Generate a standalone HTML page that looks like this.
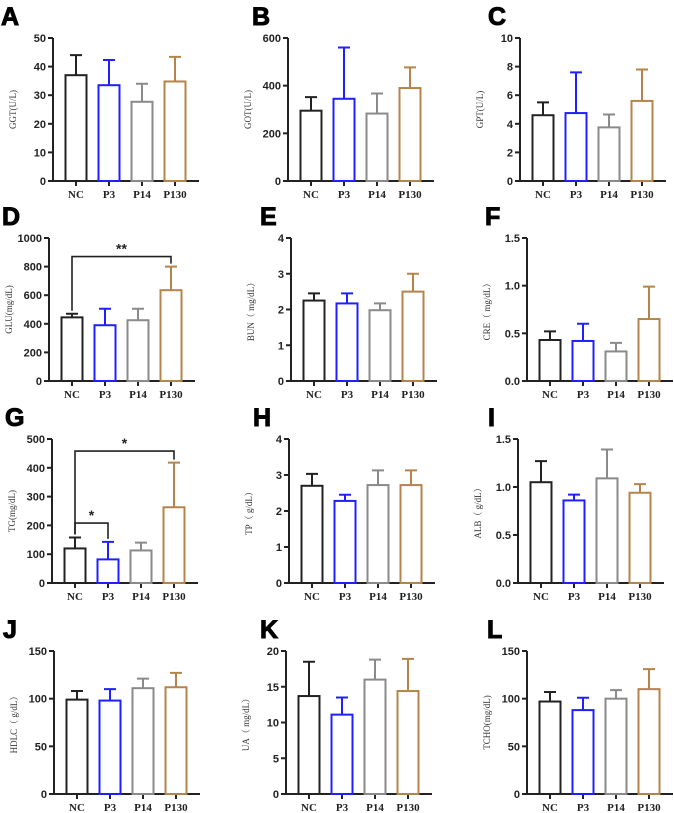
<!DOCTYPE html>
<html><head><meta charset="utf-8"><style>
html,body{margin:0;padding:0;background:#fff;}
svg{display:block;}
</style></head><body>
<svg id="fig" width="674" height="813" viewBox="0 0 674 813" xmlns="http://www.w3.org/2000/svg"></svg>
<script>
const categories = ["NC","P3","P14","P130"];
const colors = ["#222222","#2020ff","#8a8a8a","#b5844a"];
const letters = ["A","B","C","D","E","F","G","H","I","J","K","L"];
const yTitles = ["GGT(U/L)","GOT(U/L)","GPT(U/L)","GLU(mg/dL)","BUN（ mg/dL）","CRE（ mg/dL）","TG(mg/dL)","TP（ g/dL）","ALB（ g/dL）","HDLC（ g/dL）","UA（ mg/dL）","TCHO(mg/dL)"];
const means = [
 [37,33.5,27.7,34.8],
 [295,345,283,390],
 [4.6,4.75,3.75,5.6],
 [445,390,425,635],
 [2.25,2.17,1.98,2.5],
 [0.43,0.42,0.31,0.65],
 [120,82,113,263],
 [2.7,2.28,2.72,2.72],
 [1.05,0.86,1.09,0.94],
 [99,98,111,112],
 [13.7,11.1,16.0,14.4],
 [97,88,100,110]
];
const upper = [
 [44,42.3,34,43.4],
 [352,560,367,477],
 [5.5,7.6,4.65,7.8],
 [470,505,505,800],
 [2.45,2.45,2.17,3.0],
 [0.52,0.6,0.4,0.99],
 [158,143,140,418],
 [3.03,2.45,3.13,3.13],
 [1.27,0.92,1.39,1.03],
 [108,110,121,127],
 [18.5,13.5,18.8,18.9],
 [107,101,109,131]
];
const tickLabels = [
 ["0","10","20","30","40","50"],
 ["0","200","400","600"],
 ["0","2","4","6","8","10"],
 ["0","200","400","600","800","1000"],
 ["0","1","2","3","4"],
 ["0.0","0.5","1.0","1.5"],
 ["0","100","200","300","400","500"],
 ["0","1","2","3","4"],
 ["0.0","0.5","1.0","1.5"],
 ["0","50","100","150"],
 ["0","5","10","15","20"],
 ["0","50","100","150"]
];
const sigPanels = [3,6,6];
const sigFrom = [0,0,0];
const sigTo = [3,1,3];
const sigLevel = [870,208,458];
const sigText = ["**","*","*"];

const axX = [53,288,520,49,291,527,52,289,518,54,286,527];
const letX = [1,252,488,2,260,485,5,253,488,3,260,487];
const rowTop = [38,238,439,651];
const rowBot = [181,381,583,794];

const NS="http://www.w3.org/2000/svg";
const svg=document.getElementById('fig');
function mk(tag,attrs,parent){const e=document.createElementNS(NS,tag);for(const k in attrs)e.setAttribute(k,attrs[k]);(parent||svg).appendChild(e);return e;}

for(let p=0;p<12;p++){
  const r=Math.floor(p/3);
  const x0=axX[p], top=rowTop[r], bot=rowBot[r];
  const ticks=tickLabels[p];
  const ymax=parseFloat(ticks[ticks.length-1]);
  const y=v=>bot-(v/ymax)*(bot-top);
  const xc=i=>x0+23+i*33;
  const g=mk('g',{});
  
  
  const lt=mk('text',{x:letX[p],y:top-13,'font-family':'Liberation Sans, sans-serif','font-weight':'bold','font-size':25,stroke:'#000','stroke-width':1},g);
  lt.textContent=letters[p];
  
  
  const ya=mk('line',{x1:x0,y1:top,x2:x0,y2:bot+1,stroke:'#222','stroke-width':2},g);
  
  
  const xa=mk('line',{x1:x0-1,y1:bot,x2:x0+146,y2:bot,stroke:'#222','stroke-width':2},g);
  
  
  ticks.forEach(t=>{
    const v=parseFloat(t),yy=y(v);
    mk('line',{x1:x0-5,y1:yy,x2:x0,y2:yy,stroke:'#222','stroke-width':2},g);
    const tx=mk('text',{x:x0-7,y:yy+4,'text-anchor':'end','font-family':'Liberation Sans, sans-serif','font-weight':'bold','font-size':11,fill:'#222'},g);
    tx.textContent=t;
    
    
  });
  const ty=(top+bot)/2;
  const tt=mk('text',{x:x0-37,y:ty,transform:`rotate(-90 ${x0-37} ${ty})`,'text-anchor':'middle','font-family':'Liberation Serif, "Noto Serif CJK SC", serif','font-size':9,fill:'#333'},g);
  tt.textContent=yTitles[p];
  
  
  categories.forEach((c,i)=>{
    const cx=xc(i), m=means[p][i], u=upper[p][i];
    mk('line',{x1:cx,y1:bot,x2:cx,y2:bot+5,stroke:'#222','stroke-width':2},g);
    const xl=mk('text',{x:cx,y:bot+17,'text-anchor':'middle','font-family':'Liberation Serif, serif','font-weight':'bold','font-size':11,fill:'#222'},g);
    xl.textContent=c;
    
    
    const eb=mk('path',{d:`M${cx} ${y(m)}V${y(u)}M${cx-6} ${y(u)}H${cx+6}`,stroke:colors[i],'stroke-width':2,fill:'none'},g);
    
    
    const b=mk('rect',{x:cx-10.5,y:y(m),width:21,height:bot-y(m),fill:'#fff',stroke:colors[i],'stroke-width':2},g);
    
    
  });
  sigPanels.forEach((sp,k)=>{
    if(sp!==p)return;
    const a=xc(sigFrom[k]), bb=xc(sigTo[k]), ly=y(sigLevel[k]);
    const hA=y(upper[p][sigFrom[k]])-3, hB=y(upper[p][sigTo[k]])-3;
    const br=mk('path',{d:`M${a} ${hA}V${ly}H${bb}V${hB}`,stroke:'#222','stroke-width':1.6,fill:'none'},g);
    
    
    const st=mk('text',{x:(a+bb)/2,y:ly-3,'text-anchor':'middle','font-family':'Liberation Sans, sans-serif','font-weight':'bold','font-size':14,fill:'#222'},g);
    st.textContent=sigText[k];
    
    
  });
}
</script>
</body></html>
